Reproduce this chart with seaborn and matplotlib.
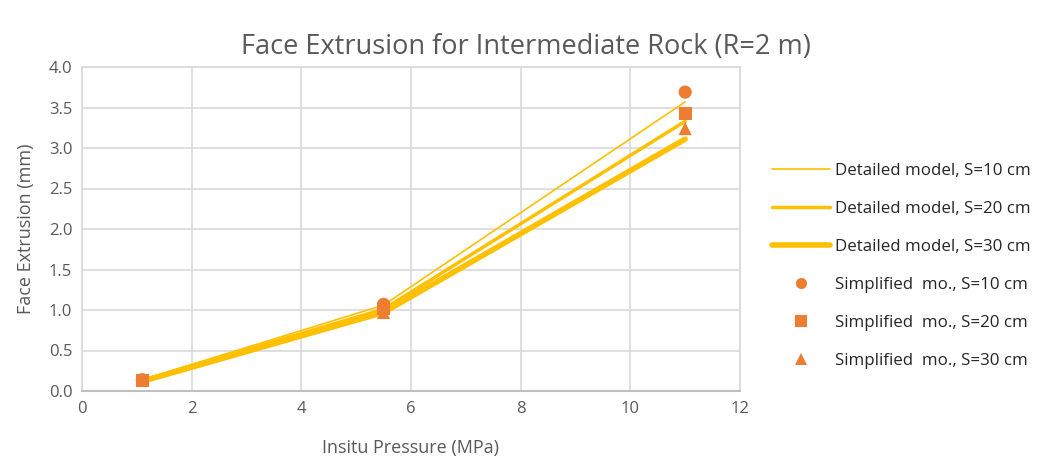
import matplotlib
matplotlib.use('Agg')
import matplotlib.pyplot as plt
import seaborn as sns
import pandas as pd
from matplotlib.lines import Line2D

# data
pressure = [1.1, 5.5, 11.0]
detailed_s10 = [0.14, 1.06, 3.57]
detailed_s20 = [0.13, 1.01, 3.33]
detailed_s30 = [0.12, 0.97, 3.11]
simple_s10 = [0.14, 1.07, 3.69]
simple_s20 = [0.13, 1.02, 3.43]
simple_s30 = [0.14, 0.97, 3.24]

line_labels = ['Detailed model, S=10 cm', 'Detailed model, S=20 cm', 'Detailed model, S=30 cm']
marker_labels = ['Simplified  mo., S=10 cm', 'Simplified  mo., S=20 cm', 'Simplified  mo., S=30 cm']

lines_df = pd.concat([
    pd.DataFrame({'x': pressure, 'y': v, 'series': lab})
    for v, lab in zip([detailed_s10, detailed_s20, detailed_s30], line_labels)
])
pts_df = pd.concat([
    pd.DataFrame({'x': pressure, 'y': v, 'series': lab})
    for v, lab in zip([simple_s10, simple_s20, simple_s30], marker_labels)
])

sns.set_theme(style='whitegrid')
plt.rcParams['font.family'] = ['Open Sans', 'DejaVu Sans']

gold = '#FFC000'
orange = '#ED7D31'
text_col = '#595959'

fig = plt.figure(figsize=(10.51, 4.66), dpi=100)
ax = fig.add_axes([82 / 1051, 1 - 391 / 466, (740 - 82) / 1051, (391 - 67) / 466])

sns.lineplot(data=lines_df, x='x', y='y', hue='series', size='series',
             sizes={line_labels[0]: 1.2, line_labels[1]: 2.5, line_labels[2]: 4.0},
             palette={l: gold for l in line_labels}, legend=False, ax=ax)
sns.scatterplot(data=pts_df, x='x', y='y', hue='series', style='series',
                markers={marker_labels[0]: 'o', marker_labels[1]: 's', marker_labels[2]: '^'},
                palette={l: orange for l in marker_labels}, s=90, edgecolor='none',
                legend=False, ax=ax, zorder=5)

ax.set_xlim(0, 12)
ax.set_ylim(0, 4.0)
ax.set_xticks(range(0, 13, 2))
ax.set_yticks([i * 0.5 for i in range(9)])
ax.set_yticklabels([f'{i * 0.5:.1f}' for i in range(9)])
ax.grid(True, color='#D9D9D9', linewidth=1.2)
for side in ['top', 'right', 'left']:
    ax.spines[side].set_color('#D9D9D9')
    ax.spines[side].set_linewidth(1.2)
ax.spines['bottom'].set_color('#BFBFBF')
ax.spines['bottom'].set_linewidth(1.5)
ax.tick_params(axis='both', labelsize=12, colors=text_col, length=0, pad=7)
ax.set_xlabel('Insitu Pressure (MPa)', fontsize=13, color=text_col, labelpad=16)
ax.set_ylabel('Face Extrusion (mm)', fontsize=13, color=text_col, labelpad=10)
fig.suptitle('Face Extrusion for Intermediate Rock (R=2 m)', fontsize=19.5, color=text_col, y=0.93)

handles = [Line2D([], [], color=gold, lw=w) for w in (1.2, 2.5, 4.0)]
handles += [Line2D([], [], color=orange, lw=0, marker=m, markersize=8, markeredgewidth=0)
            for m in ('o', 's', '^')]
fig.legend(handles, line_labels + marker_labels, loc='center left',
           bbox_to_anchor=(757 / 1051, 1 - 266 / 466), frameon=False, fontsize=12.2,
           labelcolor='#262626', handlelength=3.4, labelspacing=1.3, handletextpad=0.3)

fig.savefig('out.png', dpi=100)
